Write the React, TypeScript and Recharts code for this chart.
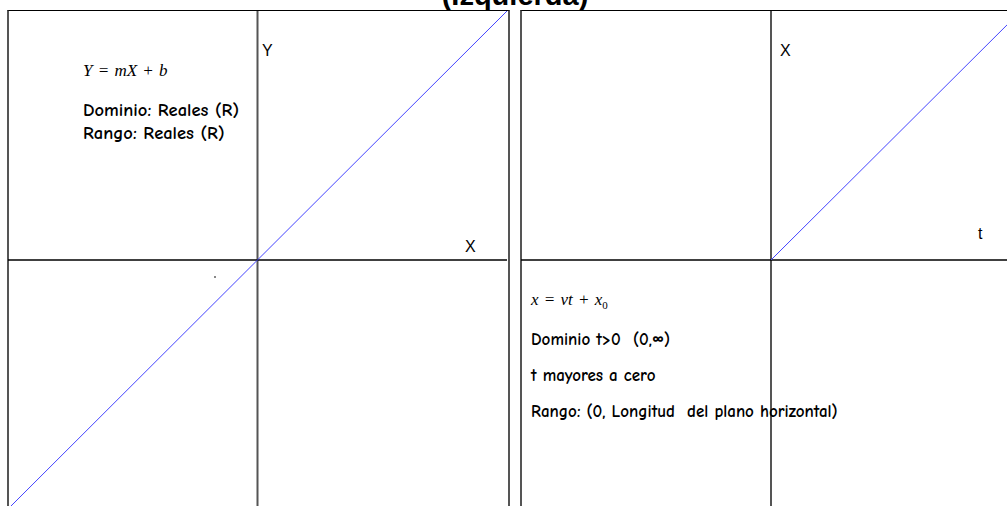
import { LineChart, Line, XAxis, YAxis, ReferenceLine } from 'recharts';

// Y = mX + b  (recta por el origen, m = 1)
const rectaX = [-10, 10];
const rectaY = [-10, 10];
// x = v t + x0  (solo t > 0)
const movT = [0, 10];
const movX = [0, 10];

const dominioPlano = [-10, 10];

const rectaData = rectaX.map((x, i) => ({ x, y: rectaY[i] }));
const movData = movT.map((t, i) => ({ x: t, y: movX[i] }));

const hand = "'Comic Neue', 'Open Sans', sans-serif";
const mathFont = "'Liberation Serif', 'DejaVu Serif', serif";
const arial = "'Liberation Sans', Arial, sans-serif";

function Plano({ data, left, width }: { data: { x: number; y: number }[]; left: number; width: number }) {
    return (
        <div style={{ position: 'absolute', left, top: 11, width, height: 498 }}>
            <LineChart width={width} height={498} data={data} margin={{ top: 0, right: 0, bottom: 0, left: 0 }}>
                <XAxis dataKey="x" type="number" domain={dominioPlano} hide />
                <YAxis dataKey="y" type="number" domain={dominioPlano} hide width={0} />
                <ReferenceLine x={0} stroke="#555" strokeWidth={2} />
                <ReferenceLine y={0} stroke="#000" strokeWidth={1.5} />
                <Line dataKey="y" stroke="#4444ff" strokeWidth={1} dot={false} isAnimationActive={false} />
            </LineChart>
        </div>
    );
}

export default function App() {
    return (
        <div style={{ position: 'fixed', left: 0, top: 0, width: 1007, height: 506, overflow: 'hidden', background: '#fff' }}>
            <div style={{ position: 'absolute', left: 0, width: 1030, top: -19, textAlign: 'center', fontFamily: arial, fontWeight: 'bold', fontSize: 29, lineHeight: '29px' }}>
                (Izquierda)
            </div>

            {/* panel izquierdo */}
            <div style={{ position: 'absolute', left: 7, top: 10, width: 499, height: 520, borderTop: '1.5px solid #000', borderLeft: '2px solid #555', borderRight: '2px solid #555' }} />
            <Plano data={rectaData} left={8} width={499} />
            <div style={{ position: 'absolute', left: 83, top: 61, fontFamily: mathFont, fontStyle: 'italic', fontSize: 17, wordSpacing: 1 }}>
                Y = mX + b
            </div>
            <div style={{ position: 'absolute', left: 83, top: 99, fontFamily: hand, fontWeight: 700, fontSize: 18.5, lineHeight: '23px' }}>
                Dominio: Reales (R)<br />Rango: Reales (R)
            </div>
            <div style={{ position: 'absolute', left: 262, top: 42, fontFamily: arial, fontSize: 16 }}>Y</div>
            <div style={{ position: 'absolute', left: 465, top: 238, fontFamily: arial, fontSize: 16 }}>X</div>
            <div style={{ position: 'absolute', left: 214, top: 276, width: 2, height: 2, background: '#888' }} />

            {/* panel derecho */}
            <div style={{ position: 'absolute', left: 520, top: 10, width: 520, height: 520, borderTop: '1.5px solid #000', borderLeft: '2px solid #555' }} />
            <Plano data={movData} left={521} width={500} />
            <div style={{ position: 'absolute', left: 780, top: 42, fontFamily: arial, fontSize: 16 }}>X</div>
            <div style={{ position: 'absolute', left: 978, top: 225, fontFamily: arial, fontSize: 16 }}>t</div>
            <div style={{ position: 'absolute', left: 531, top: 290, fontFamily: mathFont, fontStyle: 'italic', fontSize: 17, wordSpacing: 1 }}>
                x = vt + x<sub style={{ fontSize: 11, fontStyle: 'normal' }}>0</sub>
            </div>
            <div style={{ position: 'absolute', left: 531, top: 322, fontFamily: hand, fontWeight: 700, fontSize: 17, lineHeight: '36px', whiteSpace: 'pre' }}>
                {'Dominio t>0  (0,∞)'}<br />
                t mayores a cero<br />
                Rango: (0, <span style={{ fontWeight: 900 }}>Longitud</span>  del plano horizontal)
            </div>
        </div>
    );
}
